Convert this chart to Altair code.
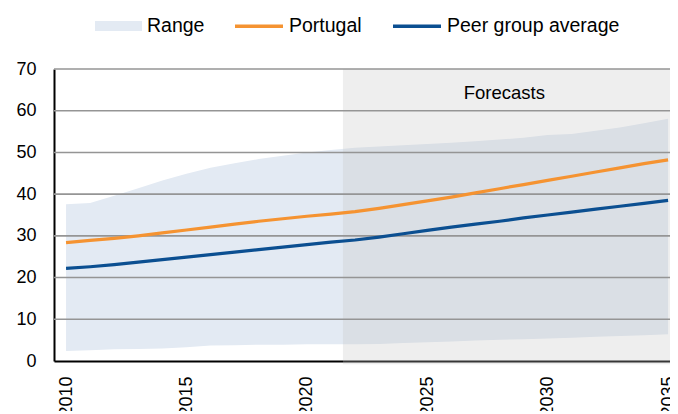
import altair as alt
import pandas as pd

years = list(range(2010, 2036))
portugal = [28.4, 28.9, 29.4, 30.0, 30.7, 31.4, 32.1, 32.8, 33.5, 34.1, 34.7, 35.2, 35.8,
            36.6, 37.5, 38.4, 39.3, 40.3, 41.3, 42.3, 43.3, 44.3, 45.3, 46.3, 47.3, 48.2]
peer_avg = [22.2, 22.6, 23.1, 23.7, 24.3, 24.9, 25.5, 26.1, 26.7, 27.3, 27.9, 28.5, 29.0,
            29.7, 30.5, 31.3, 32.1, 32.8, 33.5, 34.3, 35.0, 35.7, 36.4, 37.1, 37.8, 38.5]
range_low = [2.4, 2.6, 2.8, 2.9, 3.0, 3.3, 3.7, 3.8, 3.9, 3.9, 4.0, 4.0, 4.0,
             4.1, 4.3, 4.5, 4.7, 4.9, 5.1, 5.2, 5.4, 5.6, 5.8, 6.0, 6.2, 6.4]
range_high = [37.6, 37.9, 39.6, 41.4, 43.3, 44.9, 46.3, 47.4, 48.4, 49.2, 50.0, 50.6, 51.1,
              51.4, 51.7, 52.0, 52.3, 52.7, 53.1, 53.5, 54.2, 54.4, 55.2, 56.0, 57.0, 58.1]

series_names = ["Portugal", "Peer group average"]
series_colors = ["#F59331", "#0B4F91"]
range_name = ["Range"]
range_color = ["#E3EAF3"]

x_ticks = [2010, 2015, 2020, 2025, 2030, 2035]
y_ticks = [0, 10, 20, 30, 40, 50, 60, 70]
grid_values = [10, 20, 30, 40, 50, 60, 70]
x_domain = [2009.5, 2035.08]
y_domain = [0, 70]
forecast_span = {"start": [2021.5], "end": [2035.08], "top": [70], "bottom": [-0.8]}
forecast_label = {"x": [2028.2], "y": [64.2], "text": ["Forecasts"]}

FONT = "Liberation Sans"

df = pd.DataFrame({"year": years, "Portugal": portugal, "Peer group average": peer_avg,
                   "low": range_low, "high": range_high})
long_df = df.melt(id_vars="year", value_vars=series_names, var_name="series", value_name="value")

xs = alt.Scale(domain=x_domain, nice=False, zero=False)
ys = alt.Scale(domain=y_domain, nice=False, zero=False)

x_axis = alt.Axis(values=x_ticks, title="", labelAngle=270, labelAlign="right",
                  labelBaseline="middle", labelPadding=15, format="d")
y_axis = alt.Axis(values=y_ticks, title="", labelPadding=18)

area = alt.Chart(df).transform_calculate(kind="'Range'").mark_area(opacity=1).encode(
    x=alt.X("year:Q", scale=xs, axis=x_axis),
    y=alt.Y("low:Q", scale=ys, axis=y_axis),
    y2="high:Q",
    fill=alt.Fill("kind:N", scale=alt.Scale(domain=range_name, range=range_color),
                  legend=alt.Legend(title=None, orient="none", legendX=41, legendY=-66.5,
                                    symbolType="M-1,-0.21H1V0.21H-1Z", symbolSize=2209,
                                    symbolStrokeWidth=0, symbolOpacity=1,
                                    labelFontSize=19.5, labelFont=FONT, labelColor="black",
                                    labelOffset=5, padding=0)),
)

fc_df = pd.DataFrame(forecast_span)
forecast = alt.Chart(fc_df).mark_rect(color="#C2C2C2", opacity=0.28).encode(
    x=alt.X("start:Q", scale=xs),
    x2="end:Q",
    y=alt.Y("top:Q", scale=ys),
    y2="bottom:Q",
)

grid = alt.Chart(pd.DataFrame({"v": grid_values})).mark_rule(color="#959595", strokeWidth=1.6).encode(
    y=alt.Y("v:Q", scale=ys),
)

lines = alt.Chart(long_df).mark_line(strokeWidth=3.2).encode(
    x=alt.X("year:Q", scale=xs),
    y=alt.Y("value:Q", scale=ys),
    stroke=alt.Stroke("series:N", sort=series_names,
                      scale=alt.Scale(domain=series_names, range=series_colors),
                      legend=alt.Legend(title=None, orient="none", direction="horizontal",
                                        legendX=179, legendY=-69, symbolType="stroke",
                                        symbolSize=2304, symbolStrokeWidth=3.5,
                                        labelFontSize=19.5, labelFont=FONT, labelColor="black",
                                        labelOffset=4, columnPadding=24, padding=0,
                                        labelLimit=400)),
)

label = alt.Chart(pd.DataFrame(forecast_label)).mark_text(
    fontSize=18.5, font=FONT, color="black", align="center", baseline="middle").encode(
    x=alt.X("x:Q", scale=xs),
    y=alt.Y("y:Q", scale=ys),
    text="text:N",
)

chart = alt.layer(area, forecast, grid, lines, label).resolve_legend(
    fill="independent", stroke="independent"
).properties(
    width=616, height=292,
    autosize=alt.AutoSizeParams(type="none"),
    padding={"left": 46, "top": 61, "right": 0, "bottom": 50},
    background="white",
).configure_view(stroke=None).configure_axis(
    ticks=False, grid=False, domainColor="black", domainWidth=2,
    labelFontSize=18, labelFont=FONT, labelColor="black", labelOverlap=False,
    zindex=1,
)

chart.save("out.html", embed_options={"renderer": "svg", "actions": False})
